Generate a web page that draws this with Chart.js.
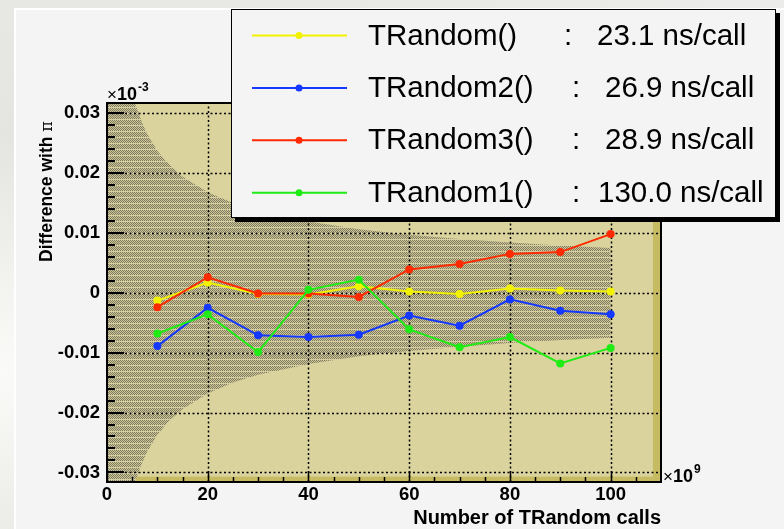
<!DOCTYPE html>
<html>
<head>
  <meta charset="UTF-8">
  <title>TRandom comparison</title>
  <script src="https://cdn.jsdelivr.net/npm/chart.js"></script>
  <style>
    html, body { margin: 0; padding: 0; }
    body {
      width: 784px; height: 529px; overflow: hidden;
      background: radial-gradient(ellipse at 5% 70%, #fbfbf9 0%, #e4e4e0 45%, #ececea 100%);
    }
    canvas { position: absolute; left: 0; top: 0; }
  </style>
</head>
<body>
  <canvas id="chart" width="784" height="529"></canvas>

  <script>
    // number of calls (x 10^9)
    const calls = [10, 20, 30, 40, 50, 60, 70, 80, 90, 100];

    // difference with pi (x 10^-3), one array per generator
    const diffTRandom  = [-0.0013, 0.0017, -0.0002, -0.0003, 0.0011, 0.0002, -0.0002, 0.0007, 0.0004, 0.0002];
    const diffTRandom2 = [-0.0089, -0.0025, -0.0071, -0.0074, -0.0070, -0.0038, -0.0055, -0.0011, -0.0030, -0.0036];
    const diffTRandom3 = [-0.0024, 0.0026, -0.0001, -0.0001, -0.0007, 0.0039, 0.0048, 0.0065, 0.0068, 0.0098];
    const diffTRandom1 = [-0.0068, -0.0036, -0.0099, 0.0005, 0.0022, -0.0061, -0.0091, -0.0074, -0.0118, -0.0092];

    const seriesNames = ["TRandom()", "TRandom2()", "TRandom3()", "TRandom1()"];
    const seriesTimes = ["23.1 ns/call", "26.9 ns/call", "28.9 ns/call", "130.0 ns/call"];
    const seriesColors = ["#f2f200", "#1438ff", "#ff2a00", "#1eec14"];

    // expected statistical spread (shaded band)
    const bandX     = [0, 5.5, 6, 7, 8, 10, 12, 15, 20, 25, 30, 40, 50, 60, 70, 80, 90, 100];
    const bandUpper = [0.0317, 0.0317, 0.0306, 0.0283, 0.0265, 0.0237, 0.0217, 0.0194, 0.0168, 0.0150, 0.0137, 0.0119, 0.0106, 0.0097, 0.0090, 0.0084, 0.0079, 0.0075];
    const bandLower = [-0.0317, -0.0317, -0.0306, -0.0283, -0.0265, -0.0237, -0.0217, -0.0194, -0.0168, -0.0150, -0.0137, -0.0119, -0.0106, -0.0097, -0.0090, -0.0084, -0.0079, -0.0075];

    const xTickVals = [0, 20, 40, 60, 80, 100];
    const xMinorVals = [5, 10, 15, 25, 30, 35, 45, 50, 55, 65, 70, 75, 85, 90, 95, 105];
    const yTickVals = [-0.03, -0.02, -0.01, 0, 0.01, 0.02, 0.03];
    const yTickLabels = ["-0.03", "-0.02", "-0.01", "0", "0.01", "0.02", "0.03"];
    const yMinorVals = [-0.028, -0.026, -0.024, -0.022, -0.018, -0.016, -0.014, -0.012,
                        -0.008, -0.006, -0.004, -0.002, 0.002, 0.004, 0.006, 0.008,
                        0.012, 0.014, 0.016, 0.018, 0.022, 0.024, 0.026, 0.028];

    const FONT = "'Liberation Sans', Arial, Helvetica, sans-serif";

    // dotted hatch used for the band
    function makeHatch() {
      const p = document.createElement("canvas");
      p.width = 4; p.height = 6;
      const c = p.getContext("2d");
      c.fillStyle = "#cfc796";
      c.fillRect(0, 0, 4, 6);
      c.fillStyle = "#7f7a62";
      for (let y = 0; y < 5; y++) {
        for (let x = 0; x < 4; x++) {
          if ((x + y) % 2 === 0) c.fillRect(x, y, 1, 1);
        }
      }
      c.fillStyle = "#d6cfa2";
      c.fillRect(0, 5, 4, 1);
      return c.createPattern(p, "repeat");
    }

    const framePlugin = {
      id: "frame",
      beforeDraw(chart) {
        const ctx = chart.ctx;
        const a = chart.chartArea;
        const xs = chart.scales.x, ys = chart.scales.y;
        ctx.save();
        // pad
        ctx.fillStyle = "#f4f4f4";
        ctx.fillRect(15, 9, chart.width - 15, chart.height - 9);
        ctx.strokeStyle = "#ffffff";
        ctx.lineWidth = 2;
        ctx.beginPath();
        ctx.moveTo(15, chart.height); ctx.lineTo(15, 9); ctx.lineTo(chart.width, 9);
        ctx.stroke();
        // frame fill
        ctx.fillStyle = "#c6bb62";
        ctx.fillRect(a.left, a.top, a.right - a.left, a.bottom - a.top);
        const kx = xs.getPixelForValue(108.4);
        const ky = ys.getPixelForValue(-0.0307);
        ctx.fillStyle = "#dbd39d";
        ctx.fillRect(a.left, a.top, kx - a.left, ky - a.top);
        ctx.restore();
      },
      afterDatasetDraw(chart, args) {
        const ds = chart.data.datasets[args.index];
        if (!ds.isBand || !ds.fill) return;
        const ctx = chart.ctx;
        const a = chart.chartArea;
        const xs = chart.scales.x, ys = chart.scales.y;
        ctx.save();
        ctx.strokeStyle = "#000";
        ctx.lineWidth = 1.5;
        ctx.setLineDash([2, 2.5]);
        xTickVals.forEach(v => {
          if (v === 0) return;
          const px = Math.round(xs.getPixelForValue(v)) + 0.5;
          ctx.beginPath(); ctx.moveTo(px, a.bottom); ctx.lineTo(px, a.top); ctx.stroke();
        });
        yTickVals.forEach(v => {
          const py = Math.round(ys.getPixelForValue(v)) + 0.5;
          ctx.beginPath(); ctx.moveTo(a.left, py); ctx.lineTo(a.right, py); ctx.stroke();
        });
        ctx.restore();
      },
      afterDraw(chart) {
        const ctx = chart.ctx;
        const a = chart.chartArea;
        const xs = chart.scales.x, ys = chart.scales.y;
        ctx.save();
        // inward tick marks
        ctx.strokeStyle = "#000";
        ctx.lineWidth = 2;
        yTickVals.forEach(v => {
          const py = Math.round(ys.getPixelForValue(v));
          ctx.beginPath(); ctx.moveTo(a.left, py); ctx.lineTo(a.left + 17, py); ctx.stroke();
        });
        yMinorVals.forEach(v => {
          const py = Math.round(ys.getPixelForValue(v));
          ctx.beginPath(); ctx.moveTo(a.left, py); ctx.lineTo(a.left + 8, py); ctx.stroke();
        });
        ctx.lineWidth = 1.5;
        xTickVals.forEach(v => {
          const px = Math.round(xs.getPixelForValue(v)) + 0.5;
          ctx.beginPath(); ctx.moveTo(px, a.bottom); ctx.lineTo(px, a.bottom - 11); ctx.stroke();
        });
        xMinorVals.forEach(v => {
          const px = Math.round(xs.getPixelForValue(v)) + 0.5;
          ctx.beginPath(); ctx.moveTo(px, a.bottom); ctx.lineTo(px, a.bottom - 5); ctx.stroke();
        });
        // frame border
        ctx.lineWidth = 2;
        ctx.strokeRect(a.left, a.top, a.right - a.left, a.bottom - a.top);

        // exponents
        ctx.fillStyle = "#000";
        ctx.textAlign = "left";
        ctx.textBaseline = "alphabetic";
        ctx.font = "17px " + FONT;
        ctx.fillText("\u00d7", a.left, a.top - 3);
        let w = ctx.measureText("\u00d7").width;
        ctx.font = "bold 18px " + FONT;
        ctx.fillText("10", a.left + w, a.top - 3);
        w += ctx.measureText("10").width;
        ctx.font = "bold 12px " + FONT;
        ctx.fillText("-3", a.left + w + 1, a.top - 12);

        ctx.font = "17px " + FONT;
        ctx.fillText("\u00d7", a.right + 2, a.bottom);
        w = ctx.measureText("\u00d7").width;
        ctx.font = "bold 18px " + FONT;
        ctx.fillText("10", a.right + 2 + w, a.bottom);
        w += ctx.measureText("10").width;
        ctx.font = "bold 12px " + FONT;
        ctx.fillText("9", a.right + 3 + w, a.bottom - 9);

        // axis titles
        ctx.font = "bold 20px " + FONT;
        ctx.textAlign = "right";
        ctx.fillText("Number of TRandom calls", a.right, 524);

        ctx.translate(52, 262);
        ctx.rotate(-Math.PI / 2);
        ctx.textAlign = "left";
        ctx.font = "bold 17.5px " + FONT;
        ctx.fillText("Difference with ", 0, 0);
        const tw = ctx.measureText("Difference with ").width;
        ctx.font = "16px 'DejaVu Serif', 'Liberation Serif', serif";
        ctx.fillText("\u03c0", tw, 0);
        ctx.restore();

        // legend box
        ctx.save();
        const lx = 231, ly = 9, lw = 545, lh = 209;
        ctx.fillStyle = "#000";
        ctx.fillRect(lx + 4, ly + 4, lw, lh);
        ctx.fillStyle = "#f4f4f4";
        ctx.fillRect(lx, ly, lw, lh);
        ctx.strokeStyle = "#000";
        ctx.lineWidth = 1;
        ctx.strokeRect(lx + 0.5, ly + 0.5, lw - 1, lh - 1);
        const colonX = [564, 572, 572, 572];
        const timeX = [597, 605, 605, 598];
        ctx.textBaseline = "middle";
        ctx.textAlign = "left";
        ctx.font = "29.5px " + FONT;
        seriesNames.forEach((name, i) => {
          const ds = chart.data.datasets[i];
          const y = 35.5 + i * 52.4;
          ctx.strokeStyle = ds.borderColor;
          ctx.lineWidth = 2;
          ctx.beginPath(); ctx.moveTo(252, y); ctx.lineTo(347, y); ctx.stroke();
          ctx.fillStyle = ds.borderColor;
          ctx.beginPath(); ctx.arc(299, y, 3.5, 0, Math.PI * 2); ctx.fill();
          ctx.fillStyle = "#000";
          ctx.fillText(name, 368, y + 1);
          ctx.fillText(":", colonX[i], y + 1);
          ctx.fillText(seriesTimes[i], timeX[i], y + 1);
        });
        ctx.restore();
      }
    };

    const ctx = document.getElementById("chart").getContext("2d");
    const hatch = makeHatch();
    const seriesValues = [diffTRandom, diffTRandom2, diffTRandom3, diffTRandom1];
    const drawOrder = [4, 3, 2, 1];

    const datasets = seriesValues.map((vals, i) => ({
      label: seriesNames[i],
      data: calls.map((x, j) => ({ x: x, y: vals[j] })),
      borderColor: seriesColors[i],
      backgroundColor: seriesColors[i],
      borderWidth: 2,
      pointRadius: 4,
      pointHoverRadius: 4,
      pointBorderWidth: 0,
      fill: false,
      tension: 0,
      order: drawOrder[i]
    }));

    datasets.push({
      label: "band upper",
      isBand: true,
      data: bandX.map((x, j) => ({ x: x, y: bandUpper[j] })),
      borderWidth: 0,
      borderColor: "rgba(0,0,0,0)",
      pointRadius: 0,
      fill: "+1",
      backgroundColor: hatch,
      order: 10
    });
    datasets.push({
      label: "band lower",
      isBand: true,
      data: bandX.map((x, j) => ({ x: x, y: bandLower[j] })),
      borderWidth: 0,
      borderColor: "rgba(0,0,0,0)",
      pointRadius: 0,
      fill: false,
      order: 11
    });

    new Chart(ctx, {
      type: "line",
      data: { datasets: datasets },
      options: {
        responsive: false,
        animation: false,
        layout: { padding: { left: 15, right: 123, top: 103, bottom: 0 } },
        plugins: {
          legend: { display: false },
          tooltip: { enabled: false }
        },
        scales: {
          x: {
            type: "linear",
            min: 0,
            max: 110,
            grid: { display: false, drawTicks: false },
            border: { display: false },
            afterBuildTicks: s => { s.ticks = xTickVals.map(v => ({ value: v })); },
            afterFit: s => { s.height = 47; },
            ticks: {
              color: "#000",
              font: { family: FONT, size: 18.5, weight: "bold" },
              padding: 2,
              maxRotation: 0,
              autoSkip: false,
              callback: v => String(v)
            }
          },
          y: {
            type: "linear",
            min: -0.0316,
            max: 0.0317,
            grid: { display: false, drawTicks: false },
            border: { display: false },
            afterBuildTicks: s => { s.ticks = yTickVals.map(v => ({ value: v })); },
            afterFit: s => { s.width = 92; },
            ticks: {
              color: "#000",
              font: { family: FONT, size: 18.5, weight: "bold" },
              padding: 7,
              autoSkip: false,
              callback: v => yTickLabels[yTickVals.indexOf(v)]
            }
          }
        }
      },
      plugins: [framePlugin]
    });
  </script>
</body>
</html>
